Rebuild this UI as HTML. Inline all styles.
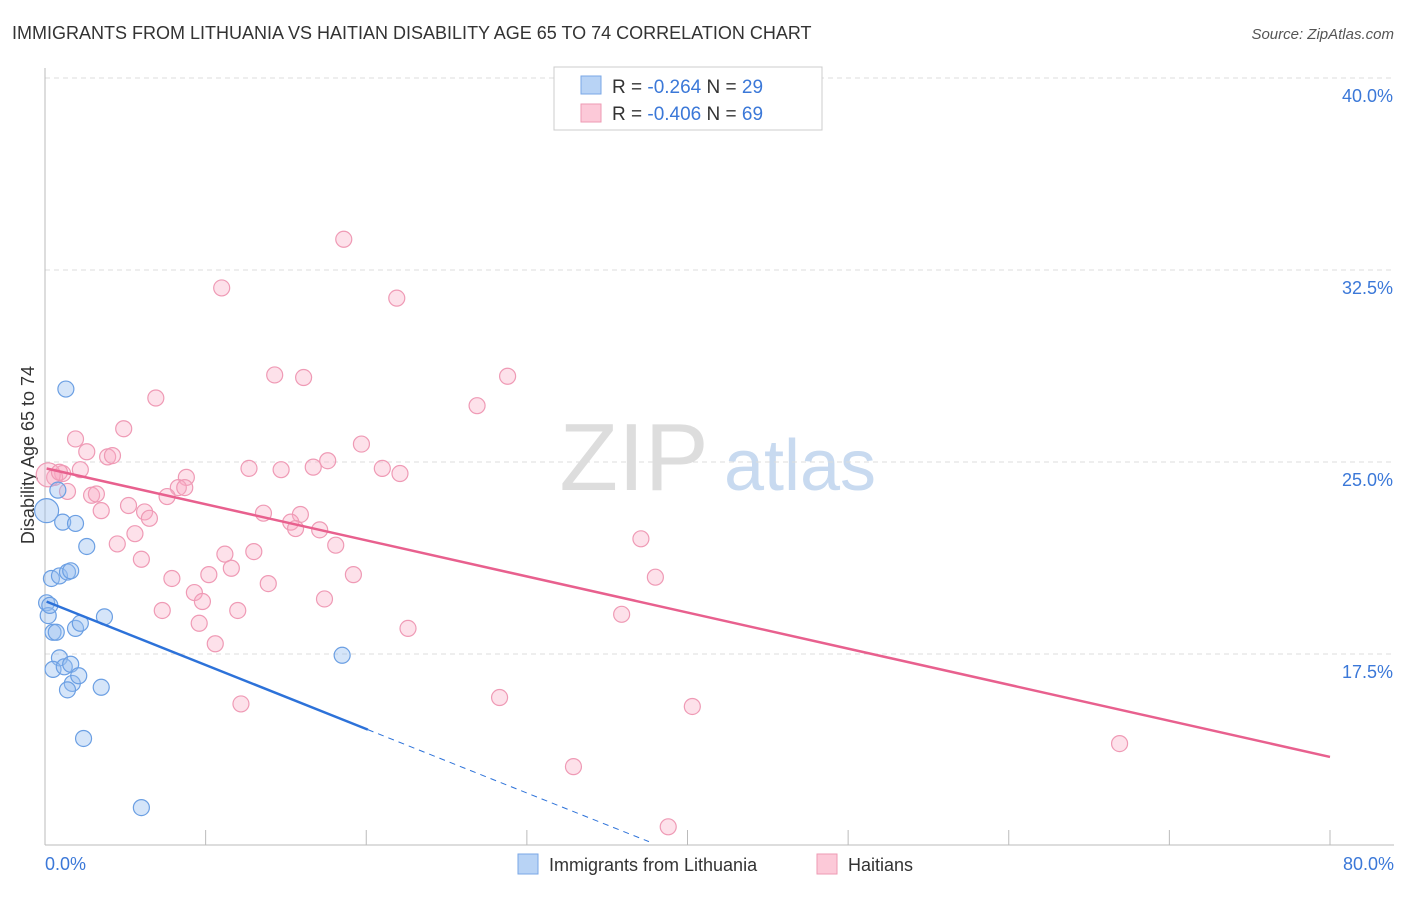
<!DOCTYPE html>
<html><head><meta charset="utf-8"><style>
body{margin:0;background:#fff;font-family:"Liberation Sans",sans-serif;}
svg text{font-family:"Liberation Sans",sans-serif;}
</style></head><body>
<svg width="1406" height="892" xmlns="http://www.w3.org/2000/svg">
<text x="12" y="39" font-size="18" fill="#333">IMMIGRANTS FROM LITHUANIA VS HAITIAN DISABILITY AGE 65 TO 74 CORRELATION CHART</text>
<text x="1394" y="39" font-size="15" fill="#555" font-style="italic" text-anchor="end">Source: ZipAtlas.com</text>
<g>
<text x="634" y="490" font-size="96" fill="#ddd" font-family="Liberation Serif" text-anchor="middle">ZIP</text>
<text x="800" y="490" font-size="72" fill="#c8daf0" text-anchor="middle">atlas</text>
</g>
<g id="grid"></g>
<line x1="45" y1="68" x2="45" y2="845" stroke="#bbb"/>
<line x1="45" y1="845" x2="1394" y2="845" stroke="#bbb"/>
<g id="xticks"></g>
<text x="45" y="870" font-size="18" fill="#3b78d8">0.0%</text>
<text x="1394" y="870" font-size="18" fill="#3b78d8" text-anchor="end">80.0%</text>
<text x="34" y="455" font-size="18" fill="#333" text-anchor="middle" transform="rotate(-90 34 455)">Disability Age 65 to 74</text>
<g id="pts"></g>
<g id="trends"></g>
<g>
<rect x="554" y="67" width="268" height="63" fill="#fff" stroke="#ccc"/>
<rect x="581" y="76" width="20" height="18" fill="#b8d3f5" stroke="#7aa7e6"/>
<rect x="581" y="104" width="20" height="18" fill="#fcc9d8" stroke="#ee9ab3"/>
<text x="612" y="93" font-size="19" fill="#333">R = <tspan fill="#3b78d8">-0.264</tspan>   N = <tspan fill="#3b78d8">29</tspan></text>
<text x="612" y="120" font-size="19" fill="#333">R = <tspan fill="#3b78d8">-0.406</tspan>   N = <tspan fill="#3b78d8">69</tspan></text>
</g>
<g>
<rect x="518" y="854" width="20" height="20" fill="#b8d3f5" stroke="#7aa7e6"/>
<text x="549" y="871" font-size="18" fill="#333">Immigrants from Lithuania</text>
<rect x="817" y="854" width="20" height="20" fill="#fcc9d8" stroke="#ee9ab3"/>
<text x="848" y="871" font-size="18" fill="#333">Haitians</text>
</g>
</svg>
<script>
const yTicks=[40,32.5,25,17.5];
const yTickLabels=["40.0%","32.5%","25.0%","17.5%"];
const xTicks=[0,10,20,30,40,50,60,70,80];
const blueX=[1.3,0.8,0.1,1.1,1.9,2.6,0.4,0.9,1.4,1.6,0.1,0.2,0.5,0.7,1.9,2.2,3.7,0.9,0.5,1.2,1.6,1.7,1.4,2.1,3.5,2.4,6.0,18.5,0.3];
const blueY=[27.85,23.9,23.1,22.65,22.6,21.7,20.45,20.55,20.7,20.75,19.5,19.0,18.35,18.35,18.5,18.7,18.95,17.35,16.9,17.0,17.1,16.35,16.1,16.65,16.2,14.2,11.5,17.45,19.4];
const pinkX=[18.6,11.0,21.9,14.3,16.1,28.8,6.9,26.9,4.9,1.9,19.7,2.6,3.9,4.2,12.7,14.7,16.7,17.6,21.0,22.1,8.8,2.2,1.1,0.6,0.2,1.4,2.9,3.2,8.3,8.7,7.6,5.2,3.5,6.2,6.5,13.6,15.9,15.3,15.6,17.1,5.6,4.5,18.1,13.0,11.2,6.0,11.6,10.2,7.9,13.9,19.2,37.1,38.0,9.3,9.8,7.3,12.0,17.4,9.6,22.6,35.9,10.6,12.2,28.3,40.3,66.9,32.9,38.8,0.9];
const pinkY=[33.7,31.8,31.4,28.4,28.3,28.35,27.5,27.2,26.3,25.9,25.7,25.4,25.2,25.25,24.75,24.7,24.8,25.05,24.75,24.55,24.4,24.7,24.55,24.4,24.5,23.85,23.7,23.75,24.0,24.0,23.65,23.3,23.1,23.05,22.8,23.0,22.95,22.65,22.4,22.35,22.2,21.8,21.75,21.5,21.4,21.2,20.85,20.6,20.45,20.25,20.6,22.0,20.5,19.9,19.55,19.2,19.2,19.65,18.7,18.5,19.05,17.9,15.55,15.8,15.45,14.0,13.1,10.75,24.6];
const blueTrend=[19.57,-0.25];
const pinkTrend=[24.76,-0.141];
const X=v=>45+v*1285/80, Y=v=>78+(40-v)*25.6;
const NS="http://www.w3.org/2000/svg";
function mk(t,a,p){const e=document.createElementNS(NS,t);for(const k in a)e.setAttribute(k,a[k]);p.appendChild(e);return e;}
const grid=document.getElementById('grid');
yTicks.forEach((t,i)=>{
 const l=mk('line',{x1:45,x2:1394,y1:Y(t),y2:Y(t),stroke:'#ddd','stroke-dasharray':'5,4'},grid);
 
 
 const tx=mk('text',{x:1393,y:Y(t)+24,'font-size':18,fill:'#3b78d8','text-anchor':'end'},grid);
 tx.textContent=yTickLabels[i];
 
 
});
const xt=document.getElementById('xticks');
xTicks.forEach(t=>{
 const l=mk('line',{x1:X(t),x2:X(t),y1:830,y2:845,stroke:'#bbb'},xt);
 
 
});
const pts=document.getElementById('pts');
pinkX.forEach((x,i)=>{
 const r=(x<0.5&&pinkY[i]>24.3)?12:8;
 const c=mk('circle',{cx:X(x),cy:Y(pinkY[i]),r:r,fill:'rgba(248,170,195,0.35)',stroke:'#ef9ab5','stroke-width':1.2},pts);
 
 
});
blueX.forEach((x,i)=>{
 const r=(i===2)?12:8;
 const c=mk('circle',{cx:X(x),cy:Y(blueY[i]),r:r,fill:'rgba(150,190,240,0.4)',stroke:'#6b9fe3','stroke-width':1.2},pts);
 
 
});
const tr=document.getElementById('trends');
let l=mk('line',{x1:X(0.1),y1:Y(pinkTrend[0]+pinkTrend[1]*0.1),x2:X(80),y2:Y(pinkTrend[0]+pinkTrend[1]*80),stroke:'#e8608e','stroke-width':2.5},tr);


l=mk('line',{x1:X(0.1),y1:Y(blueTrend[0]+blueTrend[1]*0.1),x2:X(20.1),y2:Y(blueTrend[0]+blueTrend[1]*20.1),stroke:'#2d72d9','stroke-width':2.5},tr);


l=mk('line',{x1:X(20.1),y1:Y(blueTrend[0]+blueTrend[1]*20.1),x2:X(37.6),y2:Y(blueTrend[0]+blueTrend[1]*37.6),stroke:'#2d72d9','stroke-width':1,'stroke-dasharray':'6,5'},tr);


</script>
</body></html>
